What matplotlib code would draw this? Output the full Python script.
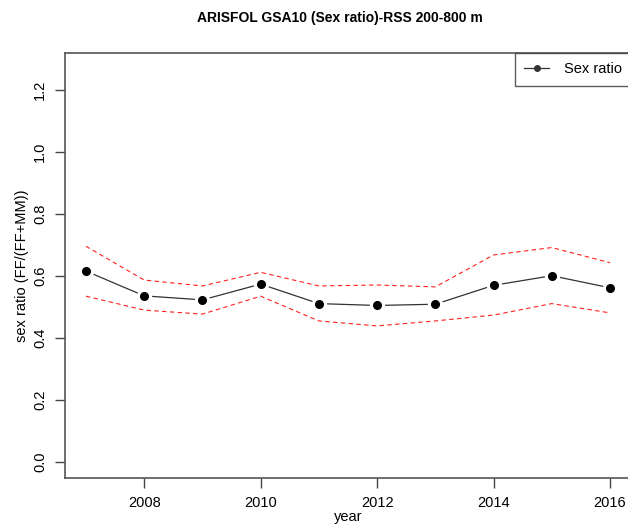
import numpy as np
import matplotlib.pyplot as plt

plt.rcParams['font.family'] = ['Liberation Sans', 'DejaVu Sans']

years = [2007, 2008, 2009, 2010, 2011, 2012, 2013, 2014, 2015, 2016]
sex_ratio = [0.616, 0.536, 0.523, 0.574, 0.511, 0.505, 0.509, 0.570, 0.601, 0.562]
upper_ci = [0.696, 0.587, 0.568, 0.612, 0.568, 0.571, 0.565, 0.668, 0.692, 0.643]
lower_ci = [0.535, 0.490, 0.477, 0.535, 0.455, 0.439, 0.455, 0.474, 0.511, 0.481]
xticks = [2008, 2010, 2012, 2014, 2016]
yticks = [0.0, 0.2, 0.4, 0.6, 0.8, 1.0, 1.2]

fig = plt.figure(figsize=(6.28, 5.31), dpi=100)
ax = fig.add_axes([65 / 628, 1 - 478 / 531, 566 / 628, 425 / 531])

# confidence band as red dashed lines
ax.plot(years, upper_ci, color='#ff2020', linestyle=(0, (4, 3)), linewidth=0.8)
ax.plot(years, lower_ci, color='#ff2020', linestyle=(0, (4, 3)), linewidth=0.8)

# R type="b": line with gaps around the points
ax.plot(years, sex_ratio, color='#333333', linewidth=0.9, zorder=3)
ax.plot(years, sex_ratio, linestyle='none', marker='o', markersize=10,
        markerfacecolor='white', markeredgecolor='white', zorder=4)
ax.plot(years, sex_ratio, linestyle='none', marker='o', markersize=5.5,
        color='black', zorder=5)

ax.set_xlim(2006.64, 2016.36)
ax.set_ylim(-0.052, 1.32)
ax.set_xticks(xticks)
ax.set_xticklabels([str(y) for y in xticks])
ax.set_yticks(yticks)
ax.set_yticklabels(['%.1f' % v for v in yticks], rotation=90, va='center')
ax.tick_params(direction='out', length=7, width=1, color='#444444', labelsize=10.5, pad=6)
for s in ax.spines.values():
    s.set_color('#555555')
    s.set_linewidth(1.2)

ax.set_xlabel('year', fontsize=10.5, labelpad=0)
ax.set_ylabel('sex ratio (FF/(FF+MM))', fontsize=10.5, labelpad=3)
fig.text(340 / 628, 1 - 18 / 531, 'ARISFOL GSA10 (Sex ratio)-RSS 200-800 m',
         ha='center', va='center', fontsize=10, fontweight='bold')

h, = ax.plot([], [], color='#333333', marker='o', markersize=4, linewidth=0.9)
leg = ax.legend([h], ['Sex ratio'], loc='upper right', borderaxespad=0,
                fancybox=False, edgecolor='#333333', fontsize=10.5,
                handlelength=1.7, borderpad=0.65, handletextpad=1.0)
leg.get_frame().set_linewidth(1)

fig.savefig('out.png', dpi=100)
